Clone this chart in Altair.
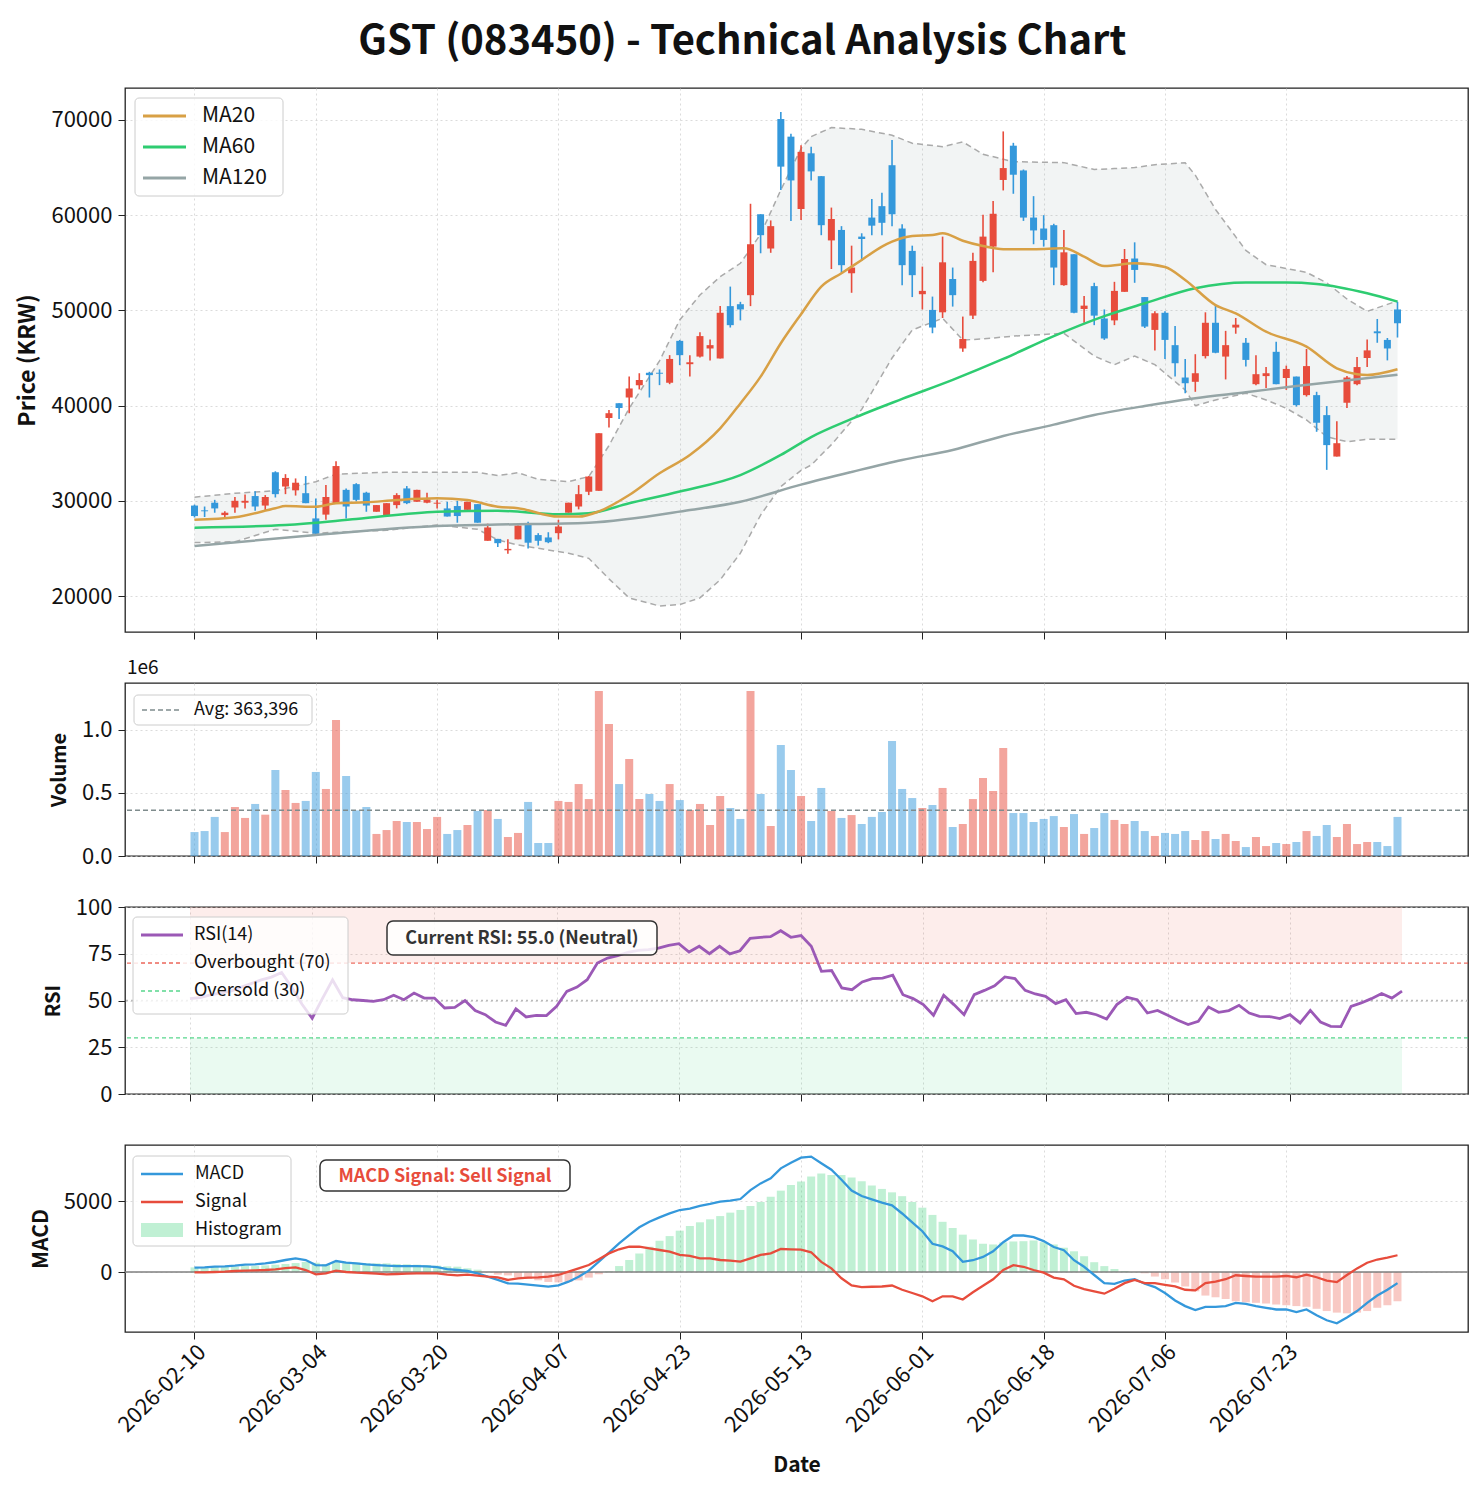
import json
import pandas as pd
import altair as alt

FONT = "Noto Sans CJK KR"

title_text = "GST (083450) - Technical Analysis Chart"

# trading-day index of the labelled ticks and their dates
tick_idx = [0, 12, 24, 36, 48, 60, 72, 84, 96, 108]
tick_dates = ["2026-02-10", "2026-03-04", "2026-03-20", "2026-04-07", "2026-04-23",
              "2026-05-13", "2026-06-01", "2026-06-18", "2026-07-06", "2026-07-23"]

opens = [29500, 29000, 29800, 28500, 29300, 29800, 30500, 29500, 33000, 31500,
         31100, 30800, 28150, 28550, 29750, 31150, 31750, 30850, 28850, 28400,
         29550, 31300, 29900, 29800, 29700, 29200, 29450, 29050, 29650, 25800,
         26000, 24800, 25950, 27650, 26400, 26150, 26600, 28750, 29400, 30950,
         31050, 38700, 40250, 40850, 42150, 43450, 43450, 42400, 46800, 44350,
         45150, 46000, 44950, 50450, 50650, 51600, 60100, 56500, 70100, 68250,
         60650, 66500, 64100, 57350, 58450, 53900, 57750, 59750, 60950, 65250,
         58600, 56250, 51700, 50050, 49800, 53300, 46000, 49450, 53100, 56700,
         63700, 67300, 64700, 59750, 58600, 58950, 52650, 55900, 50150, 52550,
         49150, 48950, 51950, 55450, 51400, 47950, 49750, 46350, 42950, 42500,
         45200, 48700, 45150, 48200, 46600, 42250, 43100, 45650, 42900, 43050,
         41100, 41100, 39000, 34650, 40300, 42250, 45000, 47800, 46900, 50100]
highs = [29600, 29400, 30100, 28900, 30400, 30650, 31000, 30600, 33100, 32800,
         32350, 32600, 30250, 31650, 34150, 31300, 31850, 30950, 29550, 29750,
         30800, 31550, 31150, 30850, 30100, 29900, 30000, 29900, 29650, 27600,
         26000, 25950, 27400, 27800, 26600, 26700, 28000, 29800, 31650, 32600,
         37100, 39550, 40250, 43050, 43400, 43550, 43800, 45300, 46900, 45300,
         47700, 46950, 50450, 52500, 50900, 61200, 60100, 59450, 70850, 68550,
         67350, 67200, 64100, 60800, 58850, 56800, 58100, 61700, 62350, 67900,
         59050, 56800, 54600, 51450, 57750, 54500, 49350, 56050, 60050, 61500,
         68800, 67600, 64800, 62000, 60000, 59100, 58450, 55900, 51500, 52900,
         50100, 53000, 56450, 57150, 51400, 49900, 49900, 48350, 44900, 45400,
         49800, 50600, 47850, 49200, 47100, 45300, 44050, 46700, 44200, 43050,
         45950, 41450, 39950, 38350, 43100, 45100, 46950, 49100, 47100, 50900]
lows = [28250, 28300, 28750, 28270, 28750, 29200, 28950, 28950, 30350, 30700,
        30550, 29750, 26500, 28000, 29750, 28150, 29950, 28850, 28850, 28400,
        29200, 29650, 29900, 29750, 29200, 28350, 27700, 29050, 27700, 25800,
        25150, 24450, 25950, 25000, 25300, 25550, 25950, 28750, 29100, 30600,
        31050, 37700, 38600, 39200, 41700, 40850, 42150, 42250, 44250, 43050,
        45050, 44750, 44950, 48200, 48950, 50450, 56000, 56050, 62650, 59400,
        59500, 63650, 57900, 54350, 53950, 51850, 55200, 57900, 57900, 58850,
        52650, 51400, 50100, 47600, 49200, 50400, 45650, 49100, 52950, 54000,
        62600, 62250, 59400, 56950, 56700, 52650, 52600, 49700, 48700, 48450,
        46900, 48450, 51950, 52900, 48150, 45800, 44900, 43050, 41300, 41450,
        44950, 45500, 42750, 47550, 44100, 42150, 41850, 42250, 41650, 39900,
        40950, 37250, 33250, 34650, 39750, 42150, 44050, 46600, 44750, 47150]
closes = [28400, 28900, 29200, 28750, 30000, 30000, 29400, 30400, 30700, 32400,
          31900, 29750, 26550, 30400, 33650, 29400, 30100, 29500, 29550, 29750,
          30600, 29750, 31150, 30150, 29800, 28350, 28400, 29900, 27700, 27200,
          25550, 24950, 27400, 25600, 25800, 25650, 27300, 29800, 30700, 32550,
          37100, 39200, 39750, 41800, 42700, 43200, 43350, 44900, 45300, 44550,
          47300, 46350, 49750, 48450, 50100, 56950, 57900, 58850, 65100, 63650,
          66650, 64600, 58950, 59600, 54750, 54500, 57500, 58900, 59200, 60100,
          54750, 53700, 52050, 48200, 55050, 51600, 47000, 55200, 57750, 60150,
          64950, 64250, 59750, 58400, 57400, 54500, 56100, 49750, 50500, 49450,
          47050, 52050, 55400, 54250, 48300, 49700, 46900, 44450, 42350, 43400,
          48700, 45550, 46350, 48500, 44800, 43300, 43400, 42250, 43850, 40050,
          44150, 38200, 35850, 36050, 42950, 44050, 45800, 47600, 46000, 48650]

# volume in thousands of shares
volumes_k = [190, 198, 310, 190, 389, 302, 413, 328, 683, 524,
             421, 437, 667, 532, 1079, 635, 362, 389, 175, 206,
             278, 270, 270, 214, 310, 175, 206, 246, 357, 365,
             294, 151, 183, 429, 103, 103, 437, 429, 571, 452,
             1310, 1048, 571, 770, 452, 492, 437, 571, 444, 365,
             413, 246, 476, 381, 294, 1310, 492, 238, 881, 683,
             476, 278, 540, 357, 302, 325, 254, 310, 349, 913,
             532, 460, 381, 405, 540, 230, 254, 452, 619, 516,
             857, 341, 341, 270, 294, 317, 230, 333, 175, 222,
             341, 286, 254, 278, 198, 159, 183, 175, 198, 127,
             198, 135, 175, 119, 71, 151, 79, 103, 95, 111,
             198, 159, 246, 151, 254, 95, 111, 111, 79, 310]
avg_volume = 363396

rsi = [51, 51.5, 53, 54, 55, 57, 59, 61, 62.5, 65,
       57, 48, 40.5, 51, 61, 51.5, 50.4, 50, 49.5, 50.4,
       52.8, 50.4, 54, 51.3, 51.3, 46, 46.3, 50, 44.6, 42.4,
       38.5, 36.7, 45.5, 41.2, 42, 41.9, 46.9, 54.9, 57.2, 61.1,
       70, 72.7, 74, 75.8, 76.8, 77.2, 78, 79.5, 80.4, 75.9,
       79, 75, 79, 74.9, 76.6, 83.2, 83.8, 84.1, 87.3, 83.8,
       84.7, 79, 65.6, 66, 56.7, 55.8, 59.9, 61.7, 62, 63.5,
       53.1, 51, 47.8, 42.1, 52.8, 47.8, 42.4, 53.1, 55.4, 57.9,
       62.6, 61.7, 55.4, 53.5, 52.2, 48.3, 50.4, 43, 43.7, 42.4,
       40.1, 47.8, 51.7, 50.4, 43.3, 44.7, 42.1, 39.4, 37.1, 38.9,
       46.5, 43.7, 44.6, 47.4, 43.3, 41.5, 41.4, 40.3, 42.4, 38,
       44.7, 38.5, 36.2, 36, 46.9, 48.7, 51, 53.7, 51.3, 55.0]
rsi_overbought = 70
rsi_oversold = 30

macd = [305, 330, 375, 400, 445, 515, 540, 610, 705, 845,
        960, 845, 490, 470, 775, 657, 610, 540, 490, 445,
        420, 420, 420, 400, 350, 210, 140, 70, -95, -330,
        -560, -800, -820, -890, -960, -1030, -940, -680, -330, 95,
        730, 1360, 2020, 2600, 3150, 3540, 3850, 4130, 4365, 4460,
        4650, 4790, 4950, 5020, 5140, 5770, 6240, 6600, 7300, 7700,
        8050, 8125, 7660, 7200, 6500, 5740, 5350, 5115, 4885, 4700,
        4120, 3500, 2870, 1990, 1800, 1460, 715, 830, 1065, 1460,
        2100, 2570, 2570, 2450, 2175, 1760, 1530, 830, 370, -210,
        -785, -830, -600, -510, -830, -1065, -1480, -2010, -2400, -2680,
        -2450, -2450, -2400, -2170, -2240, -2400, -2520, -2640, -2640, -2820,
        -2640, -3050, -3400, -3610, -3210, -2750, -2170, -1660, -1250, -785]
signal = [-20, -20, 0, 25, 70, 95, 120, 140, 190, 280,
          330, 140, -165, -95, 95, 0, -50, -70, -120, -165,
          -140, -120, -95, -95, -95, -190, -235, -190, -260, -330,
          -375, -560, -445, -400, -375, -330, -210, 25, 260, 490,
          890, 1310, 1600, 1780, 1780, 1670, 1550, 1430, 1200, 1130,
          960, 960, 845, 800, 730, 960, 1200, 1310, 1620, 1590,
          1570, 1390, 715, 255, -440, -950, -1065, -1040, -1020, -950,
          -1250, -1480, -1710, -2060, -1710, -1710, -1940, -1430, -970, -510,
          140, 485, 370, 140, -45, -390, -510, -970, -1200, -1360,
          -1525, -1180, -785, -555, -785, -785, -900, -1020, -1250, -1295,
          -785, -670, -510, -230, -280, -325, -325, -325, -280, -370,
          -185, -370, -600, -715, -210, 255, 650, 880, 1020, 1180]
histogram = [325, 350, 375, 375, 375, 420, 420, 470, 515, 565,
             630, 705, 655, 565, 680, 657, 660, 610, 610, 610,
             560, 540, 515, 495, 445, 400, 375, 260, 165, 0,
             -185, -240, -375, -490, -585, -700, -730, -705, -590, -395,
             -160, 50, 420, 845, 1310, 1780, 2200, 2530, 2910, 3240,
             3500, 3710, 3940, 4180, 4370, 4650, 4930, 5300, 5730, 6120,
             6380, 6720, 6930, 6840, 6840, 6650, 6390, 6100, 5850, 5610,
             5340, 4930, 4530, 4020, 3535, 3100, 2630, 2290, 1990, 1940,
             2080, 2150, 2170, 2220, 2100, 1940, 1710, 1460, 1110, 690,
             415, 210, 70, 0, -90, -320, -510, -740, -1020, -1360,
             -1660, -1780, -1900, -2060, -2130, -2170, -2220, -2290, -2340, -2400,
             -2450, -2590, -2750, -2860, -2910, -2860, -2750, -2520, -2340, -2060]

# moving averages and bollinger bands, read at selected trading days
ma20_idx = [0, 4, 8, 9, 12, 14, 17, 20, 24, 27, 30, 32, 36, 38, 40, 43, 46, 49, 52, 54,
            56, 58, 60, 62, 64, 66, 68, 69, 71, 73, 74, 76, 78, 80, 83, 86, 88, 90, 93, 96,
            98, 101, 103, 106, 110, 113, 115, 116, 119]
ma20_val = [28000, 28270, 29220, 29450, 29380, 29740, 29840, 30080, 30260, 30080,
            29380, 29220, 28340, 28340, 28890, 30610, 32890, 34810, 37610, 40230,
            43040, 46550, 49600, 52500, 53900, 55300, 56700, 57220, 57820, 57920,
            58100, 57320, 56760, 56420, 56420, 56520, 55640, 54660, 54950, 54560,
            53190, 50560, 49690, 47760, 46190, 43920, 43290, 43220, 43820]
ma60_idx = [0, 9, 16, 24, 30, 36, 39, 43, 48, 54, 58, 61, 65, 70, 75, 80, 85, 90, 94, 99,
            104, 108, 111, 116, 119]
ma60_val = [27180, 27460, 28090, 28860, 28960, 28580, 28700, 29740, 30970, 32700,
            34820, 36700, 38600, 40700, 42700, 44900, 47300, 49400, 50750, 52330,
            52920, 52920, 52780, 51800, 50920]
ma120_idx = [0, 12, 24, 30, 39, 49, 54, 60, 65, 70, 75, 80, 85, 89, 94, 99, 104, 109, 119]
ma120_val = [25250, 26410, 27350, 27500, 27700, 29030, 29910, 31700, 33030, 34290,
             35340, 36810, 38000, 39010, 39960, 40770, 41400, 42060, 43250]
bb_idx = [0, 4, 8, 12, 14, 19, 24, 28, 30, 32, 34, 37, 39, 41, 43, 46, 48, 50, 52, 54,
          56, 58, 60, 61, 63, 66, 69, 71, 74, 76, 78, 81, 86, 89, 91, 93, 95, 98, 99, 101,
          104, 106, 108, 110, 112, 114, 116, 119]
bb_upper = [30380, 30790, 31060, 32000, 32800, 33000, 33000, 33000, 32650, 32950,
            32260, 32010, 32540, 35800, 39720, 44700, 49000, 51620, 53540, 54950,
            58000, 62650, 67000, 68250, 69200, 69020, 68400, 67550, 67200, 67700,
            66400, 65620, 65520, 64800, 64900, 65000, 65300, 65500, 64200, 60600,
            56300, 54800, 54400, 54000, 52900, 51200, 49900, 51000]
bb_lower = [25610, 25700, 27010, 26590, 26700, 26900, 27460, 27010, 25890, 25360,
            25010, 24490, 23960, 21800, 19800, 18950, 19100, 19800, 21700, 24500,
            28500, 31500, 33200, 33760, 35900, 39600, 45000, 47940, 49170, 46890,
            47000, 47300, 47590, 45200, 44300, 45200, 44300, 41640, 40000, 40590,
            41300, 40590, 39720, 38490, 36730, 36210, 36460, 36460]

UP, DOWN = "#e74c3c", "#3498db"
W = 1343
X_DOMAIN = [-6.38, 125.48]

n = len(closes)
idx = list(range(n))
candles = pd.DataFrame({"idx": idx, "open": opens, "high": highs, "low": lows, "close": closes})
candles["up"] = candles["close"] >= candles["open"]
vol_df = pd.DataFrame({"idx": idx, "vol": [v * 1000 for v in volumes_k], "up": candles["up"]})
rsi_df = pd.DataFrame({"idx": idx, "rsi": rsi})
macd_df = pd.DataFrame({"idx": idx, "macd": macd, "signal": signal, "hist": histogram, "zero": 0})
bb_df = pd.DataFrame({"idx": bb_idx, "upper": bb_upper, "lower": bb_lower})
one = pd.DataFrame({"k": [0]})


def X(bottom=False, field="idx"):
    if bottom:
        expr = f"{json.dumps(tick_dates)}[indexof({json.dumps(tick_idx)}, datum.value)]"
        axis = alt.Axis(values=tick_idx, labelExpr=expr, labelAngle=315, labelAlign="right",
                        labelBaseline="top", labelPadding=2, title="Date", titleFontSize=21,
                        titleFontWeight="bold", titleY=122)
    else:
        axis = alt.Axis(values=tick_idx, labels=False, title=None)
    return alt.X(f"{field}:Q", scale=alt.Scale(domain=X_DOMAIN, nice=False, zero=False), axis=axis)


def make_y(domain, values, title, title_x, height, size=21, label_expr=None):
    kw = dict(values=values, title=title, titleFontWeight="bold", titleFontSize=size,
              titleX=title_x, titleY=height / 2, format="d")
    if label_expr:
        kw["labelExpr"] = label_expr

    def Y(field):
        return alt.Y(f"{field}:Q", scale=alt.Scale(domain=domain, nice=False, zero=False),
                     axis=alt.Axis(**kw))
    return Y


def legend(entries, box, rows, sym, text_x, font):
    x0, x1, y0, y1 = box
    layers = [alt.Chart(one).mark_rect(fill="white", fillOpacity=0.8, stroke="#cccccc",
                                       strokeWidth=1, cornerRadius=4)
              .encode(x=alt.value(x0), x2=alt.value(x1), y=alt.value(y0), y2=alt.value(y1))]
    for (label, kind, color, width, dash, opacity), yc in zip(entries, rows):
        if kind == "line":
            layers.append(alt.Chart(one).mark_rule(color=color, strokeWidth=width, strokeDash=dash,
                                                   opacity=opacity)
                          .encode(x=alt.value(sym[0]), x2=alt.value(sym[1]), y=alt.value(yc)))
        else:
            layers.append(alt.Chart(one).mark_rect(color=color, opacity=opacity)
                          .encode(x=alt.value(sym[0]), x2=alt.value(sym[1]),
                                  y=alt.value(yc - 7), y2=alt.value(yc + 7)))
        layers.append(alt.Chart(one).mark_text(align="left", baseline="middle", fontSize=font,
                                               font=FONT, color="#111")
                      .encode(x=alt.value(text_x), y=alt.value(yc), text=alt.value(label)))
    return layers


def note_box(text, color, box, font):
    x0, x1, y0, y1 = box
    return [
        alt.Chart(one).mark_rect(fill="white", fillOpacity=0.85, stroke="#333333", strokeWidth=1.5,
                                 cornerRadius=6)
        .encode(x=alt.value(x0), x2=alt.value(x1), y=alt.value(y0), y2=alt.value(y1)),
        alt.Chart(one).mark_text(fontSize=font, fontWeight="bold", font=FONT, color=color,
                                 baseline="middle")
        .encode(x=alt.value((x0 + x1) / 2), y=alt.value((y0 + y1) / 2 + 1), text=alt.value(text)),
    ]


# ---- price panel
H1 = 544
Yp = make_y([16220, 73360], [20000, 30000, 40000, 50000, 60000, 70000], "Price (KRW)", -86, H1, 23)
band = alt.Chart(bb_df).mark_area(color="#95a5a6", opacity=0.12).encode(
    x=X(), y=Yp("upper"), y2="lower")
band_up = alt.Chart(bb_df).mark_line(color="#aaaaaa", strokeWidth=1.5, strokeDash=[6, 4]).encode(
    x=X(), y=Yp("upper"))
band_lo = alt.Chart(bb_df).mark_line(color="#aaaaaa", strokeWidth=1.5, strokeDash=[6, 4]).encode(
    x=X(), y=Yp("lower"))
price_layers = [band, band_up, band_lo]
for flt, col in [("datum.close >= datum.open", UP), ("datum.close < datum.open", DOWN)]:
    base = alt.Chart(candles).transform_filter(flt)
    price_layers.append(base.mark_rule(color=col, strokeWidth=1.6).encode(
        x=X(), y=Yp("low"), y2="high"))
    price_layers.append(base.mark_bar(color=col, size=7).encode(
        x=X(), y=Yp("open"), y2="close"))
for ix, vals, col in [(ma120_idx, ma120_val, "#95a5a6"), (ma60_idx, ma60_val, "#2ecc71"),
                      (ma20_idx, ma20_val, "#d8a045")]:
    df = pd.DataFrame({"idx": ix, "v": vals})
    price_layers.append(alt.Chart(df).mark_line(color=col, strokeWidth=2.5, interpolate="monotone")
                        .encode(x=X(), y=Yp("v")))
price_layers += legend(
    [("MA20", "line", "#d8a045", 3, [1, 0], 1), ("MA60", "line", "#2ecc71", 3, [1, 0], 1),
     ("MA120", "line", "#95a5a6", 3, [1, 0], 1)],
    (10, 158, 10, 108), [28, 59, 90], (18, 61), 77, 21)
price = alt.layer(*price_layers).properties(width=W, height=H1)

# ---- volume panel
H2 = 173
Yv = make_y([0, 1373000], [0, 500000, 1000000], "Volume", -56, H2, 20,
            "format(datum.value / 1000000, '.1f')")
vol_layers = []
for flt, col in [("datum.up", UP), ("!datum.up", DOWN)]:
    vol_layers.append(alt.Chart(vol_df).transform_filter(flt).mark_bar(color=col, opacity=0.5, size=8)
                      .encode(x=X(), y=Yv("vol")))
avg_df = pd.DataFrame({"v": [avg_volume]})
vol_layers.append(alt.Chart(avg_df).mark_rule(color="#7f8c8d", strokeWidth=1.4, strokeDash=[5, 3])
                  .encode(y=Yv("v")))
vol_layers += legend([(f"Avg: {avg_volume:,}", "line", "#7f8c8d", 1.4, [5, 3], 1)],
                     (9, 187, 12, 42), [27], (17, 57), 69, 18)
vol_layers.append(alt.Chart(one).mark_text(align="left", baseline="bottom", fontSize=19, font=FONT,
                                           color="#111")
                  .encode(x=alt.value(2), y=alt.value(-5), text=alt.value("1e6")))
volume = alt.layer(*vol_layers).properties(width=W, height=H2)

# ---- RSI panel
H3 = 187
Yr = make_y([0, 100], [0, 25, 50, 75, 100], "RSI", -62, H3, 20)
zones = pd.DataFrame({"x0": [idx[0], idx[0]], "x1": [idx[-1], idx[-1]],
                      "lo": [rsi_overbought, 0], "hi": [100, rsi_oversold], "c": ["ob", "os"]})
rsi_layers = [
    alt.Chart(zones).mark_rect(opacity=0.1).encode(
        x=X(field="x0"), x2="x1", y=Yr("lo"), y2="hi",
        color=alt.Color("c:N", scale=alt.Scale(domain=["ob", "os"], range=[UP, "#2ecc71"]),
                        legend=None)),
]
for lvl, col, dash in [(rsi_overbought, UP, [4, 3]), (rsi_oversold, "#2ecc71", [4, 3]),
                       (50, "#aaaaaa", [2, 3])]:
    rsi_layers.append(alt.Chart(pd.DataFrame({"v": [lvl]})).mark_rule(
        color=col, strokeWidth=1.3, strokeDash=dash, opacity=0.8).encode(y=Yr("v")))
rsi_layers.append(alt.Chart(rsi_df).mark_line(color="#9b59b6", strokeWidth=2.8).encode(
    x=X(), y=Yr("rsi")))
rsi_layers += legend(
    [("RSI(14)", "line", "#9b59b6", 3, [1, 0], 1),
     (f"Overbought ({rsi_overbought})", "line", UP, 1.3, [4, 3], 0.8),
     (f"Oversold ({rsi_oversold})", "line", "#2ecc71", 1.3, [4, 3], 0.8)],
    (8, 223, 10, 107), [28, 56, 84], (16, 58), 69, 18)
cur = rsi[-1]
state = "Overbought" if cur >= rsi_overbought else ("Oversold" if cur <= rsi_oversold else "Neutral")
rsi_layers += note_box(f"Current RSI: {cur:.1f} ({state})", "#333333", (262, 532, 14, 48), 18)
rsi_chart = alt.layer(*rsi_layers).properties(width=W, height=H3)

# ---- MACD panel
H4 = 187
Ym = make_y([-4225, 8944], [0, 5000], "MACD", -74, H4, 21)
macd_layers = [
    alt.Chart(macd_df).mark_bar(size=8, opacity=0.3).encode(
        x=X(True), y=Ym("hist"), y2="zero",
        color=alt.condition("datum.hist >= 0", alt.value("#2ecc71"), alt.value(UP))),
    alt.Chart(pd.DataFrame({"v": [0]})).mark_rule(color="#7f7f7f", strokeWidth=1.3).encode(y=Ym("v")),
    alt.Chart(macd_df).mark_line(color=DOWN, strokeWidth=2.3).encode(x=X(True), y=Ym("macd")),
    alt.Chart(macd_df).mark_line(color=UP, strokeWidth=2.3).encode(x=X(True), y=Ym("signal")),
]
macd_layers += legend(
    [("MACD", "line", DOWN, 2.5, [1, 0], 1), ("Signal", "line", UP, 2.5, [1, 0], 1),
     ("Histogram", "patch", "#2ecc71", 0, [1, 0], 0.3)],
    (8, 166, 11, 101), [29, 57, 85], (16, 58), 70, 18)
sig_state = "Buy Signal" if macd[-1] > signal[-1] else "Sell Signal"
macd_layers += note_box(f"MACD Signal: {sig_state}", UP, (195, 445, 15, 46), 18)
macd_chart = alt.layer(*macd_layers).properties(width=W, height=H4)

chart = alt.vconcat(price, volume, rsi_chart, macd_chart, spacing=51, bounds="flush").resolve_scale(
    x="independent", y="independent", color="independent"
).properties(
    padding={"left": 7, "right": 5, "top": 14, "bottom": 2},
    title=alt.TitleParams(title_text, fontSize=40, fontWeight="bold", font=FONT, anchor="middle",
                          offset=25, color="#111")
).configure_axis(
    labelFont=FONT, titleFont=FONT, labelFontSize=22, labelColor="#111", titleColor="#111",
    tickColor="#222", tickSize=7, labelPadding=6, domain=False,
    gridColor="#cccccc", gridDash=[2, 3], gridOpacity=0.7
).configure_view(stroke="#222222", strokeWidth=1.3)

chart.save("out.html", embed_options={"renderer": "svg", "actions": False})
